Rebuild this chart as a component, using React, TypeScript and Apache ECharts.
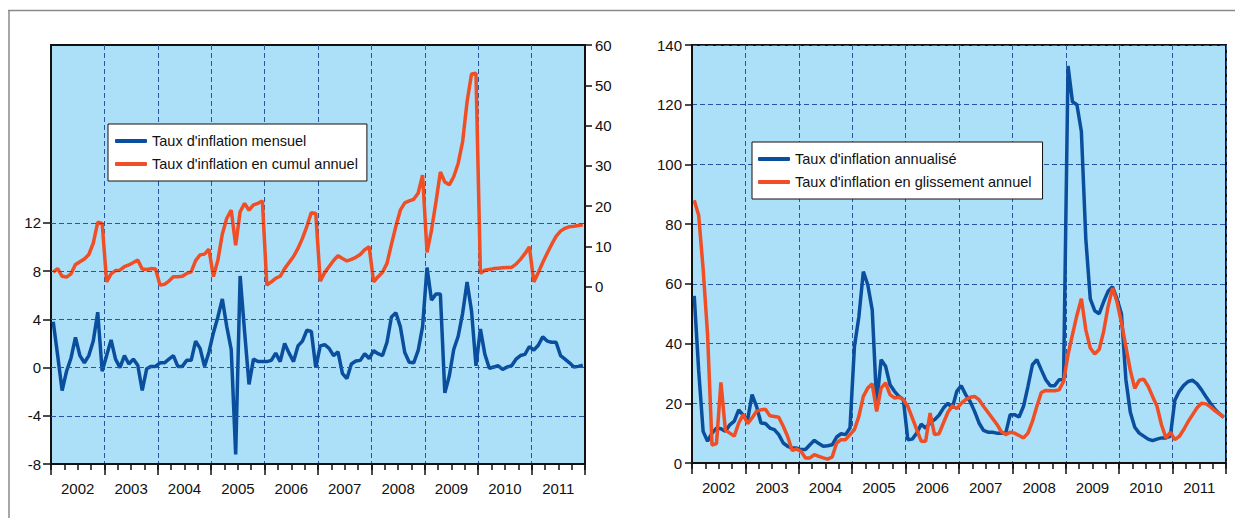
import { useEffect, useRef } from 'react';
import * as echarts from 'echarts';

const years = ['2002', '2003', '2004', '2005', '2006', '2007', '2008', '2009', '2010', '2011'];
const monthNames = ['01', '02', '03', '04', '05', '06', '07', '08', '09', '10', '11', '12'];
const months = years.flatMap((y) => monthNames.map((m) => `${y}-${m}`));

// Taux d'inflation mensuel (left axis, left panel)
const monthlyRate = [
  3.8, 1.0, -1.9, -0.3, 0.8, 2.5, 1.0, 0.4, 1.0, 2.2, 4.6, -0.3,
  1.0, 2.3, 0.7, 0.0, 1.0, 0.3, 0.7, 0.2, -1.9, -0.1, 0.1, 0.1,
  0.4, 0.4, 0.7, 1.0, 0.1, 0.1, 0.6, 0.6, 2.2, 1.6, 0.1, 1.3,
  2.9, 4.2, 5.7, 3.4, 1.5, -7.2, 7.6, 3.0, -1.4, 0.7, 0.5, 0.5,
  0.5, 0.6, 1.2, 0.5, 2.0, 1.2, 0.5, 1.8, 2.2, 3.1, 3.0, 0.0,
  1.8, 1.9, 1.6, 1.0, 1.3, -0.5, -0.9, 0.3, 0.55, 0.6, 1.15, 0.75,
  1.4, 1.15, 1.0, 2.1, 4.2, 4.55, 3.4, 1.25, 0.45, 0.4, 1.4, 3.4,
  8.3, 5.6, 6.1, 6.1, -2.1, -0.7, 1.5, 2.6, 4.5, 7.1, 4.7, 0.15,
  3.2, 1.1, -0.05, 0.05, 0.15, -0.15, 0.05, 0.15, 0.7, 1.0, 1.1, 1.75,
  1.45, 1.85, 2.55, 2.2, 2.1, 2.1, 1.0, 0.7, 0.4, 0.05, 0.1, 0.2,
];

// Taux d'inflation en cumul annuel (right axis, left panel)
const cumulativeRate = [
  3.6, 4.5, 2.6, 2.4, 3.2, 5.5, 6.2, 6.9, 8.0, 10.8, 16.0, 15.7,
  1.2, 3.2, 4.0, 4.1, 5.0, 5.4, 6.0, 6.6, 4.4, 4.3, 4.5, 4.4,
  0.4, 0.6, 1.4, 2.5, 2.5, 2.6, 3.3, 3.7, 6.5, 7.9, 8.1, 9.3,
  2.5, 6.6, 13.1, 17.0, 19.0, 10.3, 18.6, 20.7, 19.0, 20.3, 20.7, 21.3,
  0.4, 1.2, 2.1, 2.6, 4.5, 6.0, 7.5, 9.5, 12.0, 15.0, 18.4, 18.2,
  1.4, 3.5, 5.0, 6.5, 7.7, 7.0, 6.4, 6.8, 7.3, 8.0, 9.2, 9.9,
  1.2, 2.5, 3.6, 5.8, 10.5, 15.0, 19.0, 20.8, 21.3, 21.7, 23.2, 27.7,
  8.5, 14.0, 21.0, 28.5, 26.0, 25.3, 27.3, 30.6, 36.0, 45.9, 52.8, 53.0,
  3.3, 4.1, 4.3, 4.5, 4.6, 4.7, 4.8, 4.8, 5.6, 6.8, 8.2, 9.9,
  1.2, 3.5, 6.0, 8.3, 10.5, 12.5, 13.8, 14.5, 14.9, 15.0, 15.2, 15.4,
];

// Taux d'inflation annualisé (right panel)
const annualizedRate = [
  56, 31, 10.6, 7.3, 10, 11.7, 11.5, 10.6, 12.8, 14.0, 17.8, 16.0,
  14.5, 22.9, 19, 13.4, 13.2, 11.7, 11.2, 9.5, 6.7, 5.6, 5.0, 5.0,
  4.5, 4.5, 6.1, 7.6, 6.5, 5.6, 5.8, 6.1, 8.7, 9.8, 9.5, 11.7,
  39, 49, 64.1, 59.7, 51.3, 20, 34.6, 32.4, 26.2, 24, 22.3, 21.2,
  7.8, 8, 10, 13, 11.7, 13.4, 14.5, 16, 18.4, 20, 18.4, 24,
  25.9, 22.9, 20.6, 17.3, 13.4, 10.9, 10.3, 10.3, 10, 10, 10, 16.2,
  16.2, 15.4, 19, 25.7, 32.9, 34.6, 31.2, 27.9, 25.9, 25.9, 27.9, 28,
  133, 121, 120, 111, 75, 55, 51, 50, 54, 57.5, 59, 55,
  50, 28, 17, 12, 10, 9, 8, 7.5, 8, 8.4, 8.4, 9,
  21, 24, 26, 27.3, 27.7, 26.5, 24.5, 22.2, 20, 18, 16.5, 15.3,
];

// Taux d'inflation en glissement annuel (right panel)
const yoyRate = [
  88, 83, 65, 43, 6, 6.5, 27, 11, 10, 9, 13.4, 16.2,
  13.2, 15.1, 17.3, 17.8, 18, 15.8, 15.6, 15.3, 12.3, 8.9, 4.2, 4.7,
  3.9, 1.7, 1.7, 2.8, 2.2, 1.7, 1.3, 2.0, 6.7, 7.8, 7.8, 9.5,
  11.2, 15.6, 22.3, 25.1, 26.5, 17.3, 25.1, 26.8, 22.9, 21.8, 22, 21.2,
  19, 15.1, 11.2, 7.3, 7.3, 16.7, 9.5, 9.8, 13.4, 17, 19.2, 18.2,
  20, 21.2, 22, 22.3, 21.2, 19, 17, 15, 13, 10.5, 9.5, 10.3,
  10, 9.2, 8.4, 10, 13.9, 19, 23.6, 24.3, 24.2, 24.2, 24.5, 27.3,
  36.3, 43, 49.5, 55, 44.6, 38.5, 36.5, 38, 44, 52.4, 58.6, 54,
  47, 39, 31, 25, 27.7, 28.1, 25.7, 22.3, 19, 12.8, 8.4, 10.3,
  7.8, 8.9, 11.2, 13.9, 16.2, 18.5, 20, 19.8, 18.8, 17.5, 16.5, 15.4,
];

const leftTickValues = [-8, -4, 0, 4, 8, 12];
const leftGridValues = [-4, 0, 4, 8, 12];
const rightTickValues = [0, 10, 20, 30, 40, 50, 60];

const names = {
  monthly: "Taux d'inflation mensuel",
  cumul: "Taux d'inflation en cumul annuel",
  annual: "Taux d'inflation annualisé",
  yoy: "Taux d'inflation en glissement annuel",
};

const FONT = '"Liberation Sans", Arial, Helvetica, sans-serif';
const BLUE = '#0A4E9E';
const ORANGE = '#F04E25';
const GRID_LINE = '#2656A6';
const INK = '#111111';

function monthAxis(gridIndex: number) {
  return {
    gridIndex,
    type: 'category',
    data: months,
    boundaryGap: true,
    position: 'bottom',
    axisLine: { show: true, onZero: false, lineStyle: { color: INK, width: 2 } },
    axisTick: { show: true, interval: (i: number) => i % 3 === 0, length: 6, lineStyle: { color: INK, width: 1.5 } },
    axisLabel: { show: false },
    splitLine: { show: false },
  };
}

function yearAxis(gridIndex: number) {
  return {
    gridIndex,
    type: 'category',
    data: years,
    boundaryGap: true,
    position: 'bottom',
    axisLine: { show: false, onZero: false },
    axisTick: { show: true, interval: 0, length: 11, lineStyle: { color: INK, width: 1.5 } },
    axisLabel: { interval: 0, margin: 17, fontFamily: FONT, fontSize: 15, color: INK },
    splitLine: { show: true, interval: 0, lineStyle: { type: [5, 3], color: GRID_LINE, width: 1 } },
  };
}

const labelStyle = { fontFamily: FONT, fontSize: 15, color: INK };

function legendOf(data: string[], left: number, top: number, padding: number[]) {
  return {
    data,
    left,
    top,
    orient: 'vertical',
    icon: 'roundRect',
    itemWidth: 32,
    itemHeight: 4,
    itemGap: 5,
    padding,
    backgroundColor: '#ffffff',
    borderColor: INK,
    borderWidth: 1,
    selectedMode: false,
    textStyle: { fontFamily: FONT, fontSize: 14.5, color: INK, lineHeight: 18 },
  };
}

export default function App() {
  const ref = useRef<HTMLDivElement>(null);

  useEffect(() => {
    if (!ref.current) return;
    const chart = echarts.init(ref.current, null, { renderer: 'svg' });
    const option = {
      animation: false,
      backgroundColor: '#ffffff',
      graphic: [
        { type: 'line', shape: { x1: 8, y1: 10.5, x2: 1235, y2: 10.5 }, style: { stroke: '#8a8a8a', lineWidth: 1.5 } },
        { type: 'line', shape: { x1: 9, y1: 10, x2: 9, y2: 518 }, style: { stroke: '#8a8a8a', lineWidth: 1.5 } },
      ],
      legend: [
        legendOf([names.monthly, names.cumul], 108, 124, [8, 9, 8, 7]),
        legendOf([names.annual, names.yoy], 752, 142, [8, 11, 8, 6]),
      ],
      grid: [
        { left: 51, top: 45, width: 534, height: 419, show: true, backgroundColor: '#ACDFF8', borderColor: INK, borderWidth: 2 },
        { left: 692, top: 45, width: 534, height: 418, show: true, backgroundColor: '#ACDFF8', borderColor: INK, borderWidth: 2 },
      ],
      xAxis: [monthAxis(0), yearAxis(0), monthAxis(1), yearAxis(1)],
      yAxis: [
        {
          gridIndex: 0,
          type: 'value',
          position: 'left',
          min: -8,
          max: 26.77,
          axisLine: { show: true, onZero: false, lineStyle: { color: INK, width: 2 } },
          axisTick: { show: true, length: 8, customValues: leftTickValues, lineStyle: { color: INK, width: 1.5 } },
          axisLabel: { ...labelStyle, margin: 10, customValues: leftTickValues },
          splitLine: { show: false },
        },
        {
          gridIndex: 0,
          type: 'value',
          position: 'right',
          min: -44,
          max: 60,
          axisLine: { show: true, onZero: false, lineStyle: { color: INK, width: 2 } },
          axisTick: { show: true, length: 7, customValues: rightTickValues, lineStyle: { color: INK, width: 1.5 } },
          axisLabel: { ...labelStyle, margin: 10, customValues: rightTickValues },
          splitLine: { show: false },
        },
        {
          gridIndex: 1,
          type: 'value',
          position: 'left',
          min: 0,
          max: 140,
          interval: 20,
          axisLine: { show: true, onZero: false, lineStyle: { color: INK, width: 2 } },
          axisTick: { show: true, length: 7, lineStyle: { color: INK, width: 1.5 } },
          axisLabel: { ...labelStyle, margin: 10 },
          splitLine: { show: true, lineStyle: { type: [5, 3], color: GRID_LINE, width: 1 } },
        },
      ],
      series: [
        {
          type: 'line',
          xAxisIndex: 0,
          yAxisIndex: 0,
          data: [],
          z: 1,
          silent: true,
          markLine: {
            silent: true,
            symbol: 'none',
            label: { show: false },
            lineStyle: { type: [5, 3], color: GRID_LINE, width: 1 },
            data: leftGridValues.map((v) => ({ yAxis: v })),
          },
        },
        {
          name: names.monthly,
          type: 'line',
          xAxisIndex: 0,
          yAxisIndex: 0,
          data: monthlyRate,
          showSymbol: false,
          z: 3,
          lineStyle: { color: BLUE, width: 3.5 },
          itemStyle: { color: BLUE },
        },
        {
          name: names.cumul,
          type: 'line',
          xAxisIndex: 0,
          yAxisIndex: 1,
          data: cumulativeRate,
          showSymbol: false,
          z: 3,
          lineStyle: { color: ORANGE, width: 3.5 },
          itemStyle: { color: ORANGE },
        },
        {
          name: names.annual,
          type: 'line',
          xAxisIndex: 2,
          yAxisIndex: 2,
          data: annualizedRate,
          showSymbol: false,
          z: 3,
          lineStyle: { color: BLUE, width: 3.5 },
          itemStyle: { color: BLUE },
        },
        {
          name: names.yoy,
          type: 'line',
          xAxisIndex: 2,
          yAxisIndex: 2,
          data: yoyRate,
          showSymbol: false,
          z: 4,
          lineStyle: { color: ORANGE, width: 3.5 },
          itemStyle: { color: ORANGE },
        },
      ],
    };
    chart.setOption(option as any);
    return () => chart.dispose();
  }, []);

  return (
    <div
      ref={ref}
      style={{ position: 'fixed', left: 0, top: 0, width: 1235, height: 518, background: '#fff' }}
    />
  );
}
